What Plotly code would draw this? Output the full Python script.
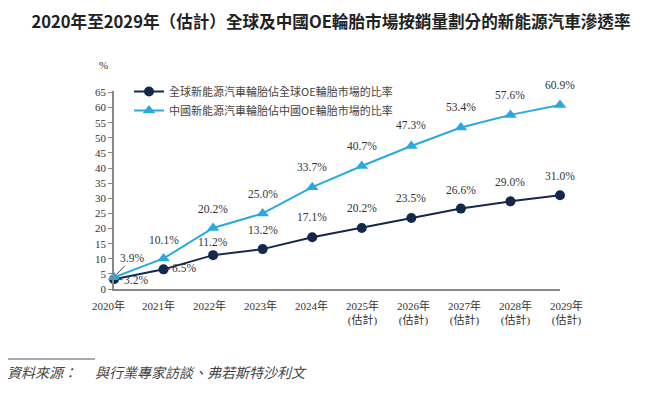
import plotly.graph_objects as go

years = ["2020年", "2021年", "2022年", "2023年", "2024年",
         "2025年<br>(估計)", "2026年<br>(估計)", "2027年<br>(估計)",
         "2028年<br>(估計)", "2029年<br>(估計)"]
global_share = [3.2, 6.5, 11.2, 13.2, 17.1, 20.2, 23.5, 26.6, 29.0, 31.0]
china_share = [3.9, 10.1, 20.2, 25.0, 33.7, 40.7, 47.3, 53.4, 57.6, 60.9]
series_names = ["全球新能源汽車輪胎佔全球OE輪胎市場的比率",
                "中國新能源汽車輪胎佔中國OE輪胎市場的比率"]
y_ticks = list(range(0, 70, 5))

DARK = "#14284b"
BLUE = "#2aa9e0"
TXT = "#333333"
SERIF = "Liberation Serif, Noto Sans CJK TC, serif"
CJK = "Noto Sans CJK TC, Liberation Serif, sans-serif"

OFF = 8  # page body margin in the browser
W, H = 658, 394
L, R, T, B = 114 - OFF, 560 - OFF, 91 - OFF, 289 - OFF

def px(x):
    return (x - OFF - L) / (R - L)

def py(y):
    return (B - (y - OFF)) / (B - T)

xs = list(range(len(years)))

fig = go.Figure()
fig.add_trace(go.Scatter(
    x=xs, y=global_share, name=series_names[0], mode="lines+markers",
    line=dict(color=DARK, width=2),
    marker=dict(symbol="circle", size=10, color=DARK),
    cliponaxis=False))
fig.add_trace(go.Scatter(
    x=xs, y=china_share, name=series_names[1], mode="lines+markers",
    line=dict(color=BLUE, width=2),
    marker=dict(symbol="triangle-up", size=11, color=BLUE),
    cliponaxis=False))

LBL = dict(family=SERIF, size=11.5, color=TXT)
annotations = []
# year labels (spaced a little wider than the points, as in the reference)
n = len(xs)
for i, t in enumerate(years):
    annotations.append(dict(x=i, y=0, xref="x", yref="paper", text=t,
                            showarrow=False, yanchor="top", yshift=-8,
                            xshift=-6 + 12 * i / (n - 1),
                            font=dict(family=SERIF, size=11, color=TXT)))
g_shift = [None, None, 13, 19, 20, 20, 20, 19, 19, 19]
c_shift = [None, 18, 19, 19, 20, 20, 21, 21, 20, 20]
for i, v in enumerate(global_share):
    if g_shift[i] is None:
        continue
    annotations.append(dict(x=i, y=v, xref="x", yref="y", text=f"{v:.1f}%",
                            showarrow=False, yshift=g_shift[i], font=LBL))
for i, v in enumerate(china_share):
    if c_shift[i] is None:
        continue
    annotations.append(dict(x=i, y=v, xref="x", yref="y", text=f"{v:.1f}%",
                            showarrow=False, yshift=c_shift[i], font=LBL))
annotations.append(dict(x=0, y=china_share[0], xref="x", yref="y",
                        text=f"{china_share[0]:.1f}%", showarrow=True,
                        arrowhead=0, arrowwidth=1, arrowcolor="#444",
                        ax=18, ay=-19, standoff=4, font=LBL))
annotations.append(dict(x=0, y=global_share[0], xref="x", yref="y",
                        text=f"{global_share[0]:.1f}%", showarrow=True,
                        arrowhead=0, arrowwidth=1, arrowcolor="#444",
                        ax=22, ay=1, standoff=4, font=LBL))
annotations.append(dict(x=1, y=global_share[1], xref="x", yref="y",
                        text=f"{global_share[1]:.1f}%", showarrow=True,
                        arrowhead=0, arrowwidth=1, arrowcolor="#444",
                        ax=20, ay=-1, standoff=4, font=LBL))
annotations.append(dict(x=px(103), y=py(65), xref="paper", yref="paper",
                        xanchor="center", yanchor="middle",
                        text="%", showarrow=False,
                        font=dict(family=SERIF, size=11, color=TXT)))
FOOT = dict(family=CJK, size=14, color="#444")
annotations.append(dict(x=px(5), y=py(372), xref="paper", yref="paper",
                        xanchor="left", yanchor="middle",
                        text="<i>資料來源：</i>", showarrow=False, font=FOOT))
annotations.append(dict(x=px(93), y=py(372), xref="paper", yref="paper",
                        xanchor="left", yanchor="middle",
                        text="<i>與行業專家訪談、弗若斯特沙利文</i>",
                        showarrow=False, font=FOOT))

shapes = [dict(type="line", xref="paper", yref="paper",
               x0=px(5), x1=px(95), y0=py(359), y1=py(359),
               line=dict(color="#555", width=1))]

fig.update_layout(
    width=W, height=H,
    margin=dict(l=L, r=W - R, t=T, b=H - B),
    paper_bgcolor="white", plot_bgcolor="white",
    title=dict(text="<b>2020年至2029年（估計）全球及中國OE輪胎市場按銷量劃分的新能源汽車滲透率</b>",
               x=(331 - OFF) / W, xanchor="center",
               y=1 - (22 - OFF) / H, yanchor="middle",
               xref="container", yref="container",
               font=dict(family=CJK, size=16.6, color="#222")),
    showlegend=True,
    legend=dict(x=px(129), y=py(77), xanchor="left", yanchor="top",
                bgcolor="rgba(0,0,0,0)",
                font=dict(family=CJK, size=11, color="#444"),
                itemwidth=30, tracegroupgap=0),
    xaxis=dict(range=[0, 9], tickvals=xs, showticklabels=False, showgrid=False,
               zeroline=False, showline=True, linecolor="#888", linewidth=1.5,
               ticks=""),
    yaxis=dict(range=[0, 65.5], tickvals=y_ticks, showgrid=False, zeroline=False,
               showline=True, linecolor="#888", linewidth=1.5,
               ticks="outside", ticklen=4, tickcolor="#888",
               tickfont=dict(family=SERIF, size=11, color=TXT)),
    annotations=annotations, shapes=shapes,
)
fig.write_html("out.html")
